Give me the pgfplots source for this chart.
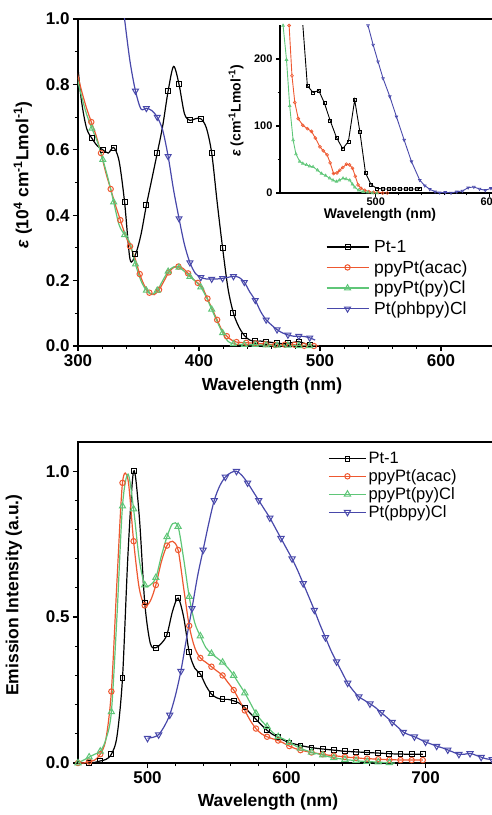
\documentclass[border=0pt]{standalone}
\usepackage{pgfplots}
\pgfplotsset{compat=1.18}
\usepackage{fontspec}
\setmainfont{Liberation Sans}
\definecolor{cred}{RGB}{238,88,48}
\definecolor{cgreen}{RGB}{95,198,120}
\definecolor{cblue}{RGB}{72,72,170}
\newcommand{\fs}[1]{\fontsize{#1}{#1}\selectfont}

\pgfplotsset{
  orig/.style={
    scale only axis, anchor=south west,
    tick align=outside, tick pos=left,
    axis line style={line width=1.6pt},
    major tick length=5pt, minor tick length=3pt,
    every tick/.append style={line width=1.2pt, black},
    every minor tick/.append style={line width=1.0pt, black},
    tick label style={font=\fs{17}\bfseries},
    label style={font=\fs{17.5}\bfseries},
    /pgf/number format/assume math mode=true,
    legend cell align=left,
    legend image code/.code={\draw[##1,mark repeat=2,mark phase=2]
      plot coordinates {(0pt,0pt) (21pt,0pt) (42pt,0pt)};},
  },
  sblack/.style={black, line width=1.2pt, smooth, mark=square, mark size=2.5pt, mark options={fill=white, solid, line width=1pt}},
  sred/.style={cred, line width=1.2pt, smooth, mark=o, mark size=2.7pt, mark options={fill=white, solid, line width=1pt}},
  sgreen/.style={cgreen, line width=1.2pt, smooth, mark=triangle, mark size=3.4pt, mark options={fill=white, solid, line width=1pt}},
  sblue/.style={cblue, line width=1.2pt, smooth, mark=triangle, mark size=3.4pt, mark options={fill=white, solid, rotate=180, line width=1pt}},
}

\begin{document}
\begin{tikzpicture}
\useasboundingbox (0,0) rectangle (492pt,815pt);

% ---------------- absorption ----------------
\begin{axis}[orig,
  at={(78pt,469pt)}, width=423.5pt, height=327pt,
  xmin=300, xmax=650, ymin=0, ymax=1,
  xtick={300,400,500,600}, minor x tick num=4,
  ytick={0,0.2,0.4,0.6,0.8,1.0}, minor y tick num=1,
  yticklabel style={/pgf/number format/.cd, fixed, fixed zerofill, precision=1},
  xlabel={Wavelength (nm)},
  xlabel style={at={(axis description cs:0.458,0)}, anchor=center, yshift=-40pt},
  ylabel={\textit{ε} (10\textsuperscript{4} cm\textsuperscript{-1}Lmol\textsuperscript{-1})},
  ylabel style={at={(axis description cs:-0.130,0.523)}, anchor=center},
  legend style={at={(axis description cs:0.585,0.33)}, anchor=north west,
    draw=none, fill=none, font=\fs{17.5}, row sep=2.5pt, inner sep=0pt,
    /tikz/every odd column/.append style={column sep=3pt}},
]
\addplot[sblack, mark repeat=2, mark phase=3] table[row sep=\\]{
298 0.93\\302.5 0.76\\307 0.667\\311.5 0.635\\316 0.612\\320.5 0.60\\325 0.59\\329.5 0.607\\334 0.565\\338.5 0.44\\343 0.265\\347.5 0.28\\352 0.34\\356.5 0.43\\361 0.51\\365.5 0.59\\370 0.673\\374.5 0.78\\379 0.855\\383.5 0.80\\388 0.71\\392.5 0.69\\397 0.695\\401.5 0.695\\406 0.668\\410.5 0.59\\415 0.44\\419.5 0.30\\424 0.175\\428.5 0.10\\433 0.058\\437.5 0.032\\442 0.018\\446.5 0.015\\451 0.015\\455.5 0.013\\460 0.011\\464.5 0.009\\469 0.007\\473.5 0.008\\478 0.011\\482.5 0.013\\487 0.008\\491.5 0.003\\496 0.001\\
};
\addlegendentry{Pt-1}
\addplot[sred, mark repeat=2, mark phase=3] table[row sep=\\]{
299 0.84\\303 0.78\\307 0.728\\311 0.685\\315 0.643\\319 0.59\\323 0.53\\327 0.48\\331 0.43\\335 0.385\\339 0.34\\343 0.305\\347 0.27\\351 0.22\\355 0.184\\359 0.163\\363 0.157\\367 0.172\\371 0.198\\375 0.225\\379 0.24\\383 0.243\\387 0.237\\391 0.222\\395 0.205\\399 0.193\\403 0.177\\407 0.145\\411 0.112\\415 0.08\\419 0.048\\423 0.03\\427 0.018\\431 0.012\\435 0.0105\\439 0.0098\\443 0.0092\\447 0.008\\451 0.007\\455 0.006\\459 0.005\\463 0.003\\467 0.0033\\471 0.004\\475 0.0043\\479 0.0037\\483 0.002\\487 0.0007\\491 0\\495 0\\499 0\\
};
\addlegendentry{ppyPt(acac)}
\addplot[sgreen, mark repeat=2, mark phase=3] table[row sep=\\]{
298 0.84\\302.5 0.77\\307 0.71\\311.5 0.665\\316 0.625\\320.5 0.57\\325 0.51\\329.5 0.44\\334 0.37\\338.5 0.34\\343 0.315\\347.5 0.25\\352 0.2\\356.5 0.17\\361 0.158\\365.5 0.17\\370 0.2\\374.5 0.228\\379 0.242\\383.5 0.24\\388 0.228\\392.5 0.212\\397 0.198\\401.5 0.18\\406 0.15\\410.5 0.112\\415 0.075\\419.5 0.04\\424 0.014\\428.5 0.0065\\433 0.0047\\437.5 0.0043\\442 0.004\\446.5 0.0037\\451 0.003\\455.5 0.0027\\460 0.0022\\464.5 0.0017\\469 0.002\\473.5 0.0021\\478 0.0018\\482.5 0.0006\\487 0.0002\\491.5 0\\496 0\\
};
\addlegendentry{ppyPt(py)Cl}
\addplot[sblue, mark repeat=2, mark phase=3] table[row sep=\\]{
334 1.15\\338.5 1.0\\343 0.87\\347.5 0.78\\352 0.725\\356.5 0.727\\361 0.72\\365.5 0.70\\370 0.66\\374.5 0.58\\379 0.477\\383.5 0.39\\388 0.31\\392.5 0.255\\397 0.222\\401.5 0.21\\406 0.205\\410.5 0.205\\415 0.205\\419.5 0.207\\424 0.21\\428.5 0.213\\433 0.21\\437.5 0.195\\442 0.165\\446.5 0.14\\451 0.105\\455.5 0.08\\460 0.064\\464.5 0.05\\469 0.04\\473.5 0.034\\478 0.03\\482.5 0.03\\487 0.029\\491.5 0.025\\496 0.018\\
};
\addlegendentry{Pt(phbpy)Cl}
\end{axis}

% ---------------- inset ----------------
\begin{axis}[orig,
  at={(280pt,622pt)}, width=232.6pt, height=167.5pt,
  xmin=416, xmax=620, ymin=0, ymax=250,
  axis x line*=bottom, axis y line*=left,
  axis line style={-, line width=1.3pt},
  major tick length=4pt, minor tick length=2.5pt,
  xtick={500,600}, minor x tick num=4,
  ytick={0,100,200}, minor y tick num=1,
  tick label style={font=\fs{11}\bfseries},
  xticklabel style={yshift=3pt},
  xlabel={Wavelength (nm)},
  xlabel style={at={(axis description cs:0.43,0)}, anchor=center, yshift=-22pt, font=\fs{14}\bfseries},
  ylabel={\textit{ε} (cm\textsuperscript{-1}Lmol\textsuperscript{-1})},
  ylabel style={at={(axis description cs:-0.189,0.49)}, anchor=center, font=\fs{14}\bfseries},
]
\addplot[black, line width=0.9pt, mark=square, mark size=1.5pt, mark options={fill=white, line width=0.6pt}] table[row sep=\\]{
433 320\\440 160\\445 150\\450 153\\455 134\\460 108\\465.5 83\\471 66\\476 77\\481.5 139\\486 92\\491 30\\496 12\\501 7\\506 6\\511 6\\516 6\\521 6\\526 6\\531 6\\536 6\\539 7\\
};
\addplot[cred, line width=0.9pt, mark=o, mark size=1.5pt, mark options={fill=white, line width=0.6pt}] table[row sep=\\]{
421 330\\424 250\\426.5 175\\429 135\\432 111\\436 101\\440 96\\443.6 92\\447 82\\451 69\\454 63\\457.3 57\\460 45\\463 29\\466 30\\468.4 34\\471 38\\474.3 43\\477 42\\479.6 37\\482 25\\484.5 12\\487 7\\490.4 4\\494 2\\498 1\\502 1\\506 0\\510 0\\
};
\addplot[cgreen, line width=0.9pt, mark=triangle, mark size=1.6pt, mark options={fill=white, line width=0.6pt}] table[row sep=\\]{
416 330\\418.7 250\\421.7 199\\424.5 130\\427.5 79\\430 58\\433.3 47\\436 44\\439.2 42\\442 40\\445 39\\449 34\\452.4 29\\456 26\\459.6 22\\462.5 19\\465.5 17\\468 19\\471.3 22\\474 21\\477.2 19\\479.5 13\\481.6 8.5\\485 4\\489 2\\493 1\\497 0\\501 0\\
};
\addplot[cblue, line width=0.9pt, mark=triangle, mark size=1.6pt, mark options={fill=white, rotate=180, line width=0.6pt}] table[row sep=\\]{
490 290\\493.2 250\\497.7 221\\502 196\\506.4 171\\512.3 144\\518.1 114\\524.9 79\\531.3 47\\538.6 19\\543 11\\547.4 5.5\\552 2\\556 0.5\\561 1\\566 0\\571 2\\576 3\\581 8\\586 9\\591 6\\596 4\\601 7\\606 5\\611 3\\616 4\\620 3\\
};
\end{axis}

% ---------------- emission ----------------
\begin{axis}[orig,
  at={(78pt,52pt)}, width=424pt, height=321pt,
  xmin=450, xmax=755, ymin=0, ymax=1.1,
  xtick={500,600,700}, minor x tick num=4,
  ytick={0,0.5,1.0}, minor y tick num=4,
  yticklabel style={/pgf/number format/.cd, fixed, fixed zerofill, precision=1},
  xlabel={Wavelength (nm)},
  xlabel style={at={(axis description cs:0.448,0)}, anchor=center, yshift=-39pt},
  ylabel={Emission Intensity (a.u.)},
  ylabel style={at={(axis description cs:-0.151,0.523)}, anchor=center},
  legend image code/.code={\draw[#1,mark repeat=2,mark phase=2]
      plot coordinates {(0pt,0pt) (18.5pt,0pt) (37pt,0pt)};},
  legend style={at={(axis description cs:0.59,0.975)}, anchor=north west,
    draw=none, fill=none, font=\fs{16.5}, row sep=0.5pt, inner sep=0pt},
]
\addplot[sblack, mark repeat=2, mark size=2.4pt] table[row sep=\\]{
458 0.0\\462 0.002\\466 0.007\\470 0.012\\474 0.03\\478 0.09\\482 0.29\\486 0.72\\490 1.0\\494 0.85\\498 0.55\\502 0.41\\506 0.395\\510 0.41\\514 0.44\\518 0.52\\522 0.565\\526 0.50\\530 0.38\\534 0.325\\538 0.305\\542 0.265\\546 0.236\\550 0.223\\554 0.218\\558 0.218\\562 0.213\\566 0.205\\570 0.19\\574 0.17\\578 0.15\\582 0.13\\586 0.112\\590 0.098\\594 0.088\\598 0.078\\602 0.07\\606 0.065\\610 0.06\\614 0.056\\618 0.053\\622 0.05\\626 0.048\\630 0.046\\634 0.044\\638 0.042\\642 0.04\\646 0.039\\650 0.038\\654 0.037\\658 0.036\\662 0.035\\666 0.034\\670 0.033\\674 0.032\\678 0.031\\682 0.031\\686 0.03\\690 0.03\\694 0.03\\698 0.03\\
};
\addlegendentry{Pt-1}
\addplot[sred, mark repeat=2] table[row sep=\\]{
450 0.0\\454 0.0\\458 0.005\\462 0.01\\466 0.03\\470 0.08\\474 0.245\\478 0.62\\482 0.96\\486 0.97\\490 0.76\\494 0.6\\498 0.54\\502 0.555\\506 0.61\\510 0.69\\514 0.745\\518 0.76\\522 0.73\\526 0.6\\530 0.47\\534 0.395\\538 0.36\\542 0.345\\546 0.33\\550 0.315\\554 0.3\\558 0.275\\562 0.25\\566 0.215\\570 0.18\\574 0.145\\578 0.118\\582 0.1\\586 0.09\\590 0.083\\594 0.077\\598 0.068\\602 0.058\\606 0.05\\610 0.044\\614 0.04\\618 0.036\\622 0.033\\626 0.03\\630 0.027\\634 0.025\\638 0.023\\642 0.021\\646 0.019\\650 0.018\\654 0.016\\658 0.015\\662 0.014\\666 0.013\\670 0.012\\674 0.011\\678 0.011\\682 0.01\\686 0.01\\690 0.01\\694 0.01\\698 0.01\\
};
\addlegendentry{ppyPt(acac)}
\addplot[sgreen, mark repeat=2, mark size=3.6pt] table[row sep=\\]{
450 0.0\\454 0.01\\458 0.02\\462 0.03\\466 0.04\\470 0.08\\474 0.175\\478 0.5\\482 0.88\\486 0.99\\490 0.87\\494 0.7\\498 0.61\\502 0.61\\506 0.635\\510 0.71\\514 0.775\\518 0.82\\522 0.81\\526 0.7\\530 0.57\\534 0.48\\538 0.435\\542 0.395\\546 0.375\\550 0.36\\554 0.345\\558 0.325\\562 0.3\\566 0.27\\570 0.24\\574 0.205\\578 0.17\\582 0.145\\586 0.125\\590 0.105\\594 0.09\\598 0.082\\602 0.07\\606 0.06\\610 0.05\\614 0.043\\618 0.037\\622 0.032\\626 0.027\\630 0.022\\634 0.018\\638 0.015\\642 0.012\\646 0.01\\650 0.008\\654 0.006\\658 0.005\\662 0.004\\666 0.003\\670 0.002\\674 0.001\\678 0.0\\
};
\addlegendentry{ppyPt(py)Cl}
\addplot[sblue, mark repeat=2, mark size=3.6pt] table[row sep=\\]{
500 0.085\\504 0.088\\508 0.097\\512 0.125\\516 0.165\\520 0.23\\524 0.315\\528 0.425\\532 0.53\\536 0.64\\540 0.73\\544 0.82\\548 0.9\\552 0.95\\556 0.98\\560 0.995\\564 1.0\\568 0.985\\572 0.96\\576 0.93\\580 0.9\\584 0.87\\588 0.84\\592 0.805\\596 0.77\\600 0.735\\604 0.7\\608 0.66\\612 0.615\\616 0.57\\620 0.524\\624 0.475\\628 0.43\\632 0.385\\636 0.347\\640 0.31\\644 0.274\\648 0.248\\652 0.227\\656 0.215\\660 0.203\\664 0.19\\668 0.173\\672 0.157\\676 0.14\\680 0.123\\684 0.106\\688 0.097\\692 0.09\\696 0.081\\700 0.072\\704 0.065\\708 0.058\\712 0.052\\716 0.045\\720 0.037\\724 0.03\\728 0.03\\732 0.033\\736 0.027\\740 0.02\\744 0.014\\748 0.012\\752 0.01\\
};
\addlegendentry{Pt(pbpy)Cl}
\end{axis}
\end{tikzpicture}
\end{document}
